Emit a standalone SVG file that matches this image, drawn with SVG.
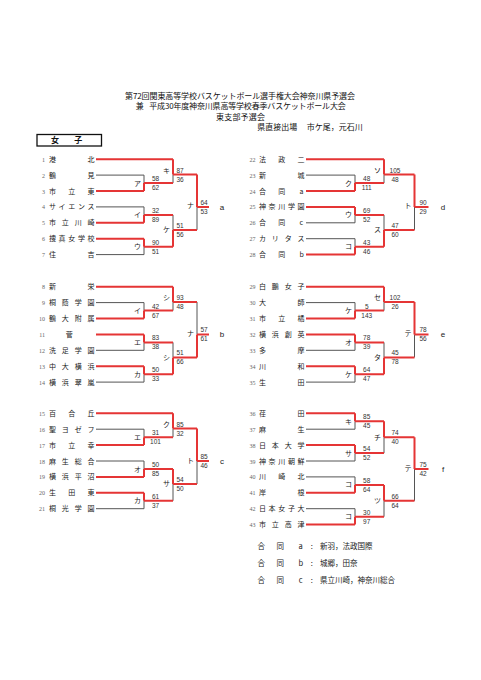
<svg xmlns="http://www.w3.org/2000/svg" width="481" height="680" viewBox="0 0 481 680">
<style>
.r{stroke:#e53535;stroke-width:2;fill:none}
.g{stroke:#555;stroke-width:1;fill:none}
.nm{font-family:"Noto Sans CJK JP","Noto Sans CJK SC",sans-serif;font-size:7px;fill:#222}
.no{font-family:"Liberation Serif",serif;font-size:6px;fill:#666;text-anchor:end}
.sc{font-family:"Liberation Sans",sans-serif;font-size:6.5px;fill:#333;text-anchor:middle}
.lb{font-family:"Noto Sans CJK JP","Noto Sans CJK SC",sans-serif;font-size:7px;fill:#222;text-anchor:end}
.rs{font-family:"Liberation Sans",sans-serif;font-size:8px;fill:#222;text-anchor:middle}
.hd{font-family:"Noto Sans CJK JP","Noto Sans CJK SC",sans-serif;font-size:8px;fill:#111}
.ft{font-family:"Noto Sans CJK JP","Noto Sans CJK SC",sans-serif;font-size:7.5px;fill:#222}
</style>
<rect width="481" height="680" fill="#fff"/>

<g id="header">
<text class="hd" x="125" y="98.5" textLength="230" lengthAdjust="spacing">第72回関東高等学校バスケットボール選手権大会神奈川県予選会</text>
<text class="hd" x="135.7" y="109">兼</text>
<text class="hd" x="149.3" y="109" textLength="196.4" lengthAdjust="spacing">平成30年度神奈川県高等学校春季バスケットボール大会</text>
<text class="hd" x="216" y="119.5" textLength="49" lengthAdjust="spacing">東支部予選会</text>
<text class="hd" x="257.3" y="130" font-size="7.5">県直接出場</text>
<text class="hd" x="306.7" y="130" font-size="7.5">市ケ尾，元石川</text>
</g>

<g id="section-title">
<rect x="37" y="134.5" width="64.5" height="11.5" fill="none" stroke="#111" stroke-width="1.3"/>
<text class="hd" x="51" y="143.3" font-weight="bold">女</text>
<text class="hd" x="74.3" y="143.3" font-weight="bold">子</text>
</g>

<g id="connectors">
<!-- gray (losing paths) -->
<path class="g" d="M96 175.1H144M96 206.9H144M96 254.6H144M144 175.1V183.1M144 206.9V214.9M144 246.7V254.6M173 174.5V183.1M173 214.9V229.9M197 206.9V229.9"/>
<path class="g" d="M96 302.6H144M96 350.3H144M96 382.1H144M144 302.6V310.6M144 342.4V350.3M144 374.2V382.1M173 302V310.6M173 342.4V357.4M197 302V334.4"/>
<path class="g" d="M96 429.2H144M96 461H144M96 508.7H144M144 429.2V437.2M144 461V469M144 500.8V508.7M173 428.6V437.2M173 484V500.8M197 461V484"/>
<path class="g" d="M306 175.1H355M306 222.8H355M306 238.7H355M355 175.1V183.1M355 214.9V222.8M355 238.7V246.7M384 174.5V183.1M384 214.9V229.9M414.5 206.9V229.9"/>
<path class="g" d="M306 302.6H355M306 350.3H355M306 382.1H355M355 302.6V310.6M355 342.4V350.3M355 374.2V382.1M384 302V310.6M384 342.4V357.4M414.5 334.4V357.4"/>
<path class="g" d="M306 429.2H355M306 461H355M306 476.9H355M306 508.7H355M355 421.3V429.2M355 453.1V461M355 476.9V484.9M355 508.7V516.7M384 437.2V453.1M384 500.8V516.7M414.5 469V500.8"/>
<!-- red (winning paths) -->
<path class="r" d="M96 159.2H173M96 191H144M96 222.8H144M96 238.7H144M144 183.1V191M144 214.9V222.8M144 238.7V246.7M173 159.2V174.5M173 229.9V246.7M197 174.5V206.9M144 183.1H173M144 214.9H173M144 246.7H173M173 174.5H197M173 229.9H197M197 206.9H209"/>
<path class="r" d="M96 286.7H173M96 318.5H144M96 334.4H144M96 366.2H144M144 310.6V318.5M144 334.4V342.4M144 366.2V374.2M173 286.7V302M173 357.4V374.2M197 334.4V357.4M144 310.6H173M144 342.4H173M144 374.2H173M173 302H197M173 357.4H197M197 334.4H209"/>
<path class="r" d="M96 413.3H173M96 445.1H144M96 476.9H144M96 492.8H144M144 437.2V445.1M144 469V476.9M144 492.8V500.8M173 413.3V428.6M173 469V484M197 428.6V461M144 437.2H173M144 469H173M144 500.8H173M173 428.6H197M173 484H197M197 461H209"/>
<path class="r" d="M306 159.2H384M306 191H355M306 206.9H355M306 254.6H355M355 183.1V191M355 206.9V214.9M355 246.7V254.6M384 159.2V174.5M384 229.9V246.7M414.5 174.5V206.9M355 183.1H384M355 214.9H384M355 246.7H384M384 174.5H414.5M384 229.9H414.5M414.5 206.9H428.5"/>
<path class="r" d="M306 286.7H384M306 318.5H355M306 334.4H355M306 366.2H355M355 310.6V318.5M355 334.4V342.4M355 366.2V374.2M384 286.7V302M384 357.4V374.2M414.5 302V334.4M355 310.6H384M355 342.4H384M355 374.2H384M384 302H414.5M384 357.4H414.5M414.5 334.4H428.5"/>
<path class="r" d="M306 413.3H355M306 445.1H355M306 492.8H355M306 524.6H355M355 413.3V421.3M355 445.1V453.1M355 484.9V492.8M355 516.7V524.6M384 421.3V437.2M384 484.9V500.8M414.5 437.2V469M355 421.3H384M355 453.1H384M355 484.9H384M355 516.7H384M384 437.2H414.5M384 500.8H414.5M414.5 469H428.5"/>
</g>

<!-- teams block a -->
<g id="t1"><text class="no" x="45" y="161.7">1</text><text class="nm" x="49 87.5" y="161.7">港北</text></g>
<g id="t2"><text class="no" x="45" y="177.6">2</text><text class="nm" x="49 87.5" y="177.6">鶴見</text></g>
<g id="t3"><text class="no" x="45" y="193.5">3</text><text class="nm" x="49 68.25 87.5" y="193.5">市立東</text></g>
<g id="t4"><text class="no" x="45" y="209.4">4</text><text class="nm" x="49 58.6 68.25 77.9 87.5" y="209.4">サイエンス</text></g>
<g id="t5"><text class="no" x="45" y="225.3">5</text><text class="nm" x="49 61.8 74.7 87.5" y="225.3">市立川崎</text></g>
<g id="t6"><text class="no" x="45" y="241.2">6</text><text class="nm" x="49 58.6 68.25 77.9 87.5" y="241.2">捜真女学校</text></g>
<g id="t7"><text class="no" x="45" y="257.1">7</text><text class="nm" x="49 87.5" y="257.1">住吉</text></g>
<!-- block b -->
<g id="t8"><text class="no" x="45" y="289.2">8</text><text class="nm" x="49 87.5" y="289.2">新栄</text></g>
<g id="t9"><text class="no" x="45" y="305.1">9</text><text class="nm" x="49 61.8 74.7 87.5" y="305.1">桐蔭学園</text></g>
<g id="t10"><text class="no" x="45" y="321">10</text><text class="nm" x="49 61.8 74.7 87.5" y="321">鶴大附属</text></g>
<g id="t11"><text class="no" x="45" y="336.9">11</text><text class="nm" x="65.8" y="336.9">菅</text></g>
<g id="t12"><text class="no" x="45" y="352.8">12</text><text class="nm" x="49 61.8 74.7 87.5" y="352.8">洗足学園</text></g>
<g id="t13"><text class="no" x="45" y="368.7">13</text><text class="nm" x="49 61.8 74.7 87.5" y="368.7">中大横浜</text></g>
<g id="t14"><text class="no" x="45" y="384.6">14</text><text class="nm" x="49 61.8 74.7 87.5" y="384.6">横浜翠嵐</text></g>
<!-- block c -->
<g id="t15"><text class="no" x="45" y="415.8">15</text><text class="nm" x="49 68.25 87.5" y="415.8">百合丘</text></g>
<g id="t16"><text class="no" x="45" y="431.7">16</text><text class="nm" x="49 61.8 74.7 87.5" y="431.7">聖ヨゼフ</text></g>
<g id="t17"><text class="no" x="45" y="447.6">17</text><text class="nm" x="49 68.25 87.5" y="447.6">市立幸</text></g>
<g id="t18"><text class="no" x="45" y="463.5">18</text><text class="nm" x="49 61.8 74.7 87.5" y="463.5">麻生総合</text></g>
<g id="t19"><text class="no" x="45" y="479.4">19</text><text class="nm" x="49 61.8 74.7 87.5" y="479.4">横浜平沼</text></g>
<g id="t20"><text class="no" x="45" y="495.3">20</text><text class="nm" x="49 68.25 87.5" y="495.3">生田東</text></g>
<g id="t21"><text class="no" x="45" y="511.2">21</text><text class="nm" x="49 61.8 74.7 87.5" y="511.2">桐光学園</text></g>
<!-- block d -->
<g id="t22"><text class="no" x="255.5" y="161.7">22</text><text class="nm" x="259 278.25 297.5" y="161.7">法政二</text></g>
<g id="t23"><text class="no" x="255.5" y="177.6">23</text><text class="nm" x="259 297.5" y="177.6">新城</text></g>
<g id="t24"><text class="no" x="255.5" y="193.5">24</text><text class="nm" x="259 278.25 299.5" y="193.5">合同a</text></g>
<g id="t25"><text class="no" x="255.5" y="209.4">25</text><text class="nm" x="259 268.6 278.25 287.9 297.5" y="209.4">神奈川学園</text></g>
<g id="t26"><text class="no" x="255.5" y="225.3">26</text><text class="nm" x="259 278.25 299.5" y="225.3">合同c</text></g>
<g id="t27"><text class="no" x="255.5" y="241.2">27</text><text class="nm" x="259 271.8 284.7 297.5" y="241.2">カリタス</text></g>
<g id="t28"><text class="no" x="255.5" y="257.1">28</text><text class="nm" x="259 278.25 299.5" y="257.1">合同b</text></g>
<!-- block e -->
<g id="t29"><text class="no" x="255.5" y="289.2">29</text><text class="nm" x="259 271.8 284.7 297.5" y="289.2">白鵬女子</text></g>
<g id="t30"><text class="no" x="255.5" y="305.1">30</text><text class="nm" x="259 297.5" y="305.1">大師</text></g>
<g id="t31"><text class="no" x="255.5" y="321">31</text><text class="nm" x="259 278.25 297.5" y="321">市立橘</text></g>
<g id="t32"><text class="no" x="255.5" y="336.9">32</text><text class="nm" x="259 271.8 284.7 297.5" y="336.9">横浜創英</text></g>
<g id="t33"><text class="no" x="255.5" y="352.8">33</text><text class="nm" x="259 297.5" y="352.8">多摩</text></g>
<g id="t34"><text class="no" x="255.5" y="368.7">34</text><text class="nm" x="259 297.5" y="368.7">川和</text></g>
<g id="t35"><text class="no" x="255.5" y="384.6">35</text><text class="nm" x="259 297.5" y="384.6">生田</text></g>
<!-- block f -->
<g id="t36"><text class="no" x="255.5" y="415.8">36</text><text class="nm" x="259 297.5" y="415.8">荏田</text></g>
<g id="t37"><text class="no" x="255.5" y="431.7">37</text><text class="nm" x="259 297.5" y="431.7">麻生</text></g>
<g id="t38"><text class="no" x="255.5" y="447.6">38</text><text class="nm" x="259 271.8 284.7 297.5" y="447.6">日本大学</text></g>
<g id="t39"><text class="no" x="255.5" y="463.5">39</text><text class="nm" x="259 268.6 278.25 287.9 297.5" y="463.5">神奈川朝鮮</text></g>
<g id="t40"><text class="no" x="255.5" y="479.4">40</text><text class="nm" x="259 278.25 297.5" y="479.4">川崎北</text></g>
<g id="t41"><text class="no" x="255.5" y="495.3">41</text><text class="nm" x="259 297.5" y="495.3">岸根</text></g>
<g id="t42"><text class="no" x="255.5" y="511.2">42</text><text class="nm" x="259 268.6 278.25 287.9 297.5" y="511.2">日本女子大</text></g>
<g id="t43"><text class="no" x="255.5" y="527.1">43</text><text class="nm" x="259 271.8 284.7 297.5" y="527.1">市立高津</text></g>

<!-- matches block a -->
<g id="ma1"><text class="lb" x="141" y="185.6">ア</text><text class="sc" x="155.5" y="181.1">58</text><text class="sc" x="155.5" y="190.1">62</text></g>
<g id="ma2"><text class="lb" x="141" y="217.4">イ</text><text class="sc" x="155.5" y="212.9">32</text><text class="sc" x="155.5" y="221.9">89</text></g>
<g id="ma3"><text class="lb" x="141" y="249.2">ウ</text><text class="sc" x="155.5" y="244.7">90</text><text class="sc" x="155.5" y="253.7">51</text></g>
<g id="ma4"><text class="lb" x="170" y="172.7">キ</text><text class="sc" x="180" y="172.5">87</text><text class="sc" x="180" y="181.5">36</text></g>
<g id="ma5"><text class="lb" x="170" y="232.3">ケ</text><text class="sc" x="180" y="227.9">51</text><text class="sc" x="180" y="236.9">56</text></g>
<g id="ma6"><text class="lb" x="194" y="208.4">ナ</text><text class="sc" x="204" y="204.9">64</text><text class="sc" x="204" y="213.9">53</text></g>
<g id="res-a"><text class="rs" x="222" y="209.9">a</text></g>
<!-- block b -->
<g id="mb1"><text class="lb" x="141" y="313.1">イ</text><text class="sc" x="155.5" y="308.6">42</text><text class="sc" x="155.5" y="317.6">67</text></g>
<g id="mb2"><text class="lb" x="141" y="344.9">エ</text><text class="sc" x="155.5" y="340.4">83</text><text class="sc" x="155.5" y="349.4">38</text></g>
<g id="mb3"><text class="lb" x="141" y="376.7">カ</text><text class="sc" x="155.5" y="372.2">50</text><text class="sc" x="155.5" y="381.2">33</text></g>
<g id="mb4"><text class="lb" x="170" y="300.2">シ</text><text class="sc" x="180" y="300">93</text><text class="sc" x="180" y="309">48</text></g>
<g id="mb5"><text class="lb" x="170" y="359.8">シ</text><text class="sc" x="180" y="355.4">51</text><text class="sc" x="180" y="364.4">66</text></g>
<g id="mb6"><text class="lb" x="194" y="335.9">ナ</text><text class="sc" x="204" y="332.4">57</text><text class="sc" x="204" y="341.4">61</text></g>
<g id="res-b"><text class="rs" x="222" y="337.4">b</text></g>
<!-- block c -->
<g id="mc1"><text class="lb" x="141" y="439.7">エ</text><text class="sc" x="155.5" y="435.2">31</text><text class="sc" x="155.5" y="444.2">101</text></g>
<g id="mc2"><text class="lb" x="141" y="471.5">オ</text><text class="sc" x="155.5" y="467">50</text><text class="sc" x="155.5" y="476">85</text></g>
<g id="mc3"><text class="lb" x="141" y="503.3">カ</text><text class="sc" x="155.5" y="498.8">61</text><text class="sc" x="155.5" y="507.8">37</text></g>
<g id="mc4"><text class="lb" x="170" y="426.8">ク</text><text class="sc" x="180" y="426.6">85</text><text class="sc" x="180" y="435.6">32</text></g>
<g id="mc5"><text class="lb" x="170" y="486.4">サ</text><text class="sc" x="180" y="482">54</text><text class="sc" x="180" y="491">50</text></g>
<g id="mc6"><text class="lb" x="194" y="462.5">ト</text><text class="sc" x="204" y="459">85</text><text class="sc" x="204" y="468">46</text></g>
<g id="res-c"><text class="rs" x="222" y="464">c</text></g>
<!-- block d -->
<g id="md1"><text class="lb" x="352" y="185.6">ク</text><text class="sc" x="366.7" y="181.1">48</text><text class="sc" x="366.7" y="190.1">111</text></g>
<g id="md2"><text class="lb" x="352" y="217.4">ウ</text><text class="sc" x="366.7" y="212.9">69</text><text class="sc" x="366.7" y="221.9">52</text></g>
<g id="md3"><text class="lb" x="352" y="249.2">コ</text><text class="sc" x="366.7" y="244.7">43</text><text class="sc" x="366.7" y="253.7">46</text></g>
<g id="md4"><text class="lb" x="381" y="172.7">ソ</text><text class="sc" x="395" y="172.5">105</text><text class="sc" x="395" y="181.5">48</text></g>
<g id="md5"><text class="lb" x="381" y="232.3">ス</text><text class="sc" x="395" y="227.9">47</text><text class="sc" x="395" y="236.9">60</text></g>
<g id="md6"><text class="lb" x="411.5" y="208.4">ト</text><text class="sc" x="423" y="204.9">90</text><text class="sc" x="423" y="213.9">29</text></g>
<g id="res-d"><text class="rs" x="443" y="209.9">d</text></g>
<!-- block e -->
<g id="me1"><text class="lb" x="352" y="313.1">ケ</text><text class="sc" x="366.7" y="308.6">5</text><text class="sc" x="366.7" y="317.6">143</text></g>
<g id="me2"><text class="lb" x="352" y="344.9">オ</text><text class="sc" x="366.7" y="340.4">78</text><text class="sc" x="366.7" y="349.4">39</text></g>
<g id="me3"><text class="lb" x="352" y="376.7">ケ</text><text class="sc" x="366.7" y="372.2">64</text><text class="sc" x="366.7" y="381.2">47</text></g>
<g id="me4"><text class="lb" x="381" y="300.2">セ</text><text class="sc" x="395" y="300">102</text><text class="sc" x="395" y="309">26</text></g>
<g id="me5"><text class="lb" x="381" y="359.8">タ</text><text class="sc" x="395" y="355.4">45</text><text class="sc" x="395" y="364.4">78</text></g>
<g id="me6"><text class="lb" x="411.5" y="335.9">テ</text><text class="sc" x="423" y="332.4">78</text><text class="sc" x="423" y="341.4">56</text></g>
<g id="res-e"><text class="rs" x="443" y="337.4">e</text></g>
<!-- block f -->
<g id="mf1"><text class="lb" x="352" y="423.8">キ</text><text class="sc" x="366.7" y="419.3">85</text><text class="sc" x="366.7" y="428.3">45</text></g>
<g id="mf2"><text class="lb" x="352" y="455.6">サ</text><text class="sc" x="366.7" y="451.1">54</text><text class="sc" x="366.7" y="460.1">52</text></g>
<g id="mf3"><text class="lb" x="352" y="487.4">コ</text><text class="sc" x="366.7" y="482.9">58</text><text class="sc" x="366.7" y="491.9">64</text></g>
<g id="mf4"><text class="lb" x="352" y="519.2">コ</text><text class="sc" x="366.7" y="514.7">30</text><text class="sc" x="366.7" y="523.7">97</text></g>
<g id="mf5"><text class="lb" x="381" y="439.5">チ</text><text class="sc" x="395" y="435.2">74</text><text class="sc" x="395" y="444.2">40</text></g>
<g id="mf6"><text class="lb" x="381" y="503">ツ</text><text class="sc" x="395" y="498.8">66</text><text class="sc" x="395" y="507.8">64</text></g>
<g id="mf7"><text class="lb" x="411.5" y="470.5">テ</text><text class="sc" x="423" y="467">75</text><text class="sc" x="423" y="476">42</text></g>
<g id="res-f"><text class="rs" x="443" y="472">f</text></g>

<g id="notes">
<text class="ft" x="257.5" y="549.4">合</text><text class="ft" x="276.5" y="549.4">同</text><text class="ft" x="300.7" y="549.4" text-anchor="middle">a</text><text class="ft" x="311.7" y="549.4" text-anchor="middle">:</text><text class="ft" x="320" y="549.4">新羽，法政国際</text>
<text class="ft" x="257.5" y="566">合</text><text class="ft" x="276.5" y="566">同</text><text class="ft" x="300.7" y="566" text-anchor="middle">b</text><text class="ft" x="311.7" y="566" text-anchor="middle">:</text><text class="ft" x="320" y="566">城郷，田奈</text>
<text class="ft" x="257.5" y="582.7">合</text><text class="ft" x="276.5" y="582.7">同</text><text class="ft" x="300.7" y="582.7" text-anchor="middle">c</text><text class="ft" x="311.7" y="582.7" text-anchor="middle">:</text><text class="ft" x="320" y="582.7">県立川崎，神奈川総合</text>
</g>
</svg>
